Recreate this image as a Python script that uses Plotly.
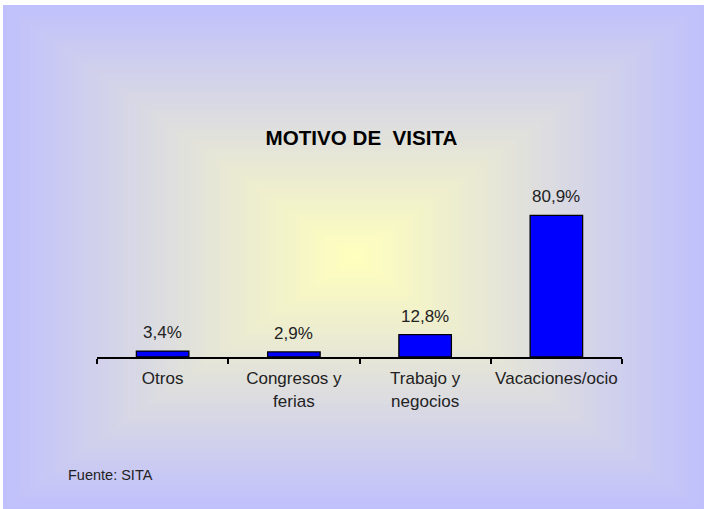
import plotly.graph_objects as go

# data
categories = ["Otros", "Congresos y ferias", "Trabajo y negocios", "Vacaciones/ocio"]
tick_labels = ["Otros", "Congresos y<br>ferias", "Trabajo y<br>negocios", "Vacaciones/ocio"]
values = [3.4, 2.9, 12.8, 80.9]
value_labels = ["3,4%", "2,9%", "12,8%", "80,9%"]

W, H = 704, 509
# plot area in pixels
PL, PR, PT, PB = 97, 622, 182, 357


def px_x(px):
    return (px - PL) / (PR - PL)


def px_y(py):
    return (PB - py) / (PB - PT)


fig = go.Figure()

fig.add_trace(go.Bar(
    x=categories,
    y=values,
    width=0.4,
    marker=dict(color="#0000FF", line=dict(color="black", width=1.3)),
    hoverinfo="skip",
))

# rectangular "from centre" gradient background, lavender edges -> pale yellow centre
outer = (192, 192, 253)
inner = (255, 255, 190)
x0, y0, x1, y1 = 3, 5, W, H
cx, cy = (x0 + x1) / 2, (y0 + y1) / 2
hw, hh = (x1 - x0) / 2, (y1 - y0) / 2
shapes = []
steps = 90
for k in range(steps):
    t = 1 - k / steps
    f = k / (steps - 1)
    col = "rgb(%d,%d,%d)" % tuple(round(o + (i - o) * f) for o, i in zip(outer, inner))
    shapes.append(dict(
        type="rect", xref="paper", yref="paper", layer="below",
        x0=px_x(cx - hw * t), x1=px_x(cx + hw * t),
        y0=px_y(cy + hh * t), y1=px_y(cy - hh * t),
        fillcolor=col, line=dict(width=0),
    ))

annotations = []
for c, v, lab in zip(categories, values, value_labels):
    annotations.append(dict(
        x=c, y=v, xref="x", yref="y", text=lab, showarrow=False,
        yanchor="bottom", yshift=7,
        font=dict(family="Arial, Liberation Sans", size=17, color="#222222"),
    ))

annotations.append(dict(
    x=px_x(66), y=px_y(475), xref="paper", yref="paper",
    text="Fuente: SITA", showarrow=False, xanchor="left", yanchor="middle",
    font=dict(family="Arial, Liberation Sans", size=14.5, color="#222222"),
))

fig.update_layout(
    width=W, height=H,
    margin=dict(l=PL, r=W - PR, t=PT, b=H - PB, pad=0),
    paper_bgcolor="white",
    plot_bgcolor="rgba(0,0,0,0)",
    showlegend=False,
    shapes=shapes,
    annotations=annotations,
    title=dict(
        text="<b>MOTIVO DE\u00a0 VISITA</b>",
        x=361.5 / W, y=1 - 137.5 / H, xanchor="center", yanchor="middle",
        xref="container", yref="container",
        font=dict(family="Arial, Liberation Sans", size=20.6, color="black"),
    ),
)

fig.update_xaxes(
    tickvals=categories, ticktext=tick_labels, tickangle=0,
    tickson="boundaries", ticks="outside", ticklen=5, tickwidth=1.5, tickcolor="black",
    ticklabelstandoff=5,
    showline=True, linecolor="black", linewidth=2,
    showgrid=False, zeroline=False,
    tickfont=dict(family="Arial, Liberation Sans", size=17, color="#222222"),
)
fig.update_yaxes(range=[0, 100], visible=False, showgrid=False)

fig.write_html(
    "out.html",
    config={"displayModeBar": False},
    post_script="document.body.style.margin='0px';document.body.style.overflow='hidden';",
)
